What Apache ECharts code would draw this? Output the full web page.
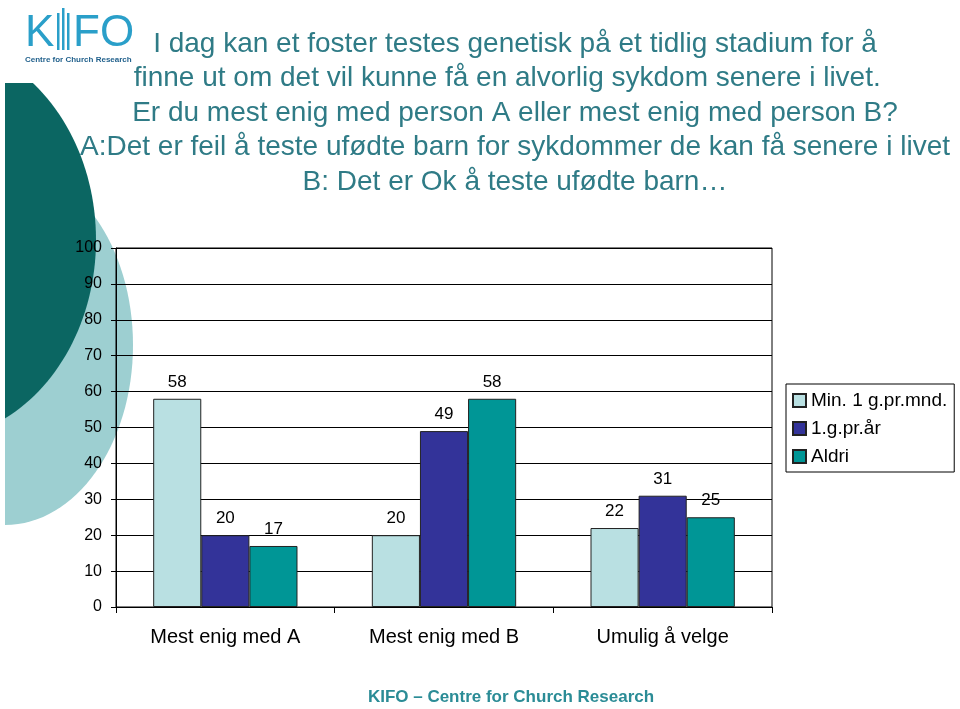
<!DOCTYPE html>
<html>
<head>
<meta charset="utf-8">
<script src="https://cdn.jsdelivr.net/npm/echarts@6/dist/echarts.min.js"></script>
<style>html,body{margin:0;padding:0;background:#fff}#c{width:960px;height:709px}</style>
</head>
<body>
<div id="c"></div>
<script>
const categories = ['Mest enig med A', 'Mest enig med B', 'Umulig å velge'];
const seriesNames = ['Min. 1 g.pr.mnd.', '1.g.pr.år', 'Aldri'];
const minMonthly = [58, 20, 22];
const yearly = [20, 49, 31];
const never = [17, 58, 25];
const yTicks = [0, 10, 20, 30, 40, 50, 60, 70, 80, 90, 100];
const titleLines = [
  'I dag kan et foster testes genetisk på et tidlig stadium for å',
  'finne ut om det vil kunne få en alvorlig sykdom senere i livet.  ',
  'Er du mest enig med person A eller mest enig med person B?',
  'A:Det er feil å teste ufødte barn for sykdommer de kan få senere i livet',
  'B: Det er Ok å teste ufødte barn…'
];
const colors = ['#b9e0e2', '#333399', '#009696'];

const chart = echarts.init(document.getElementById('c'), null, {renderer: 'canvas'});
const font = 'Liberation Sans, Arial, sans-serif';
const values = [minMonthly, yearly, never];
const logoBlue = '#2a9fc9';

chart.setOption({
  animation: false,
  backgroundColor: '#ffffff',
  textStyle: {fontFamily: font},
  graphic: [
    {type: 'ellipse', silent: true, z: -20, shape: {cx: 5, cy: 345, rx: 128, ry: 180}, style: {fill: '#9dcfd1'}},
    {type: 'ellipse', silent: true, z: -19, shape: {cx: -70, cy: 240, rx: 166, ry: 200}, style: {fill: '#0b6662'}},
    {type: 'rect', silent: true, z: -18, shape: {x: 0, y: 0, width: 400, height: 83}, style: {fill: '#ffffff'}},
    {type: 'rect', silent: true, z: -18, shape: {x: 0, y: 0, width: 5, height: 709}, style: {fill: '#ffffff'}},
    {type: 'text', silent: true, z: -17, x: 25, y: 34, style: {text: 'K', font: '300 44px ' + font, fill: logoBlue, verticalAlign: 'middle'}},
    {type: 'rect', silent: true, z: -17, shape: {x: 57, y: 13, width: 2.5, height: 37}, style: {fill: logoBlue}},
    {type: 'rect', silent: true, z: -17, shape: {x: 62, y: 8, width: 2.5, height: 42}, style: {fill: logoBlue}},
    {type: 'rect', silent: true, z: -17, shape: {x: 67, y: 13, width: 2.5, height: 37}, style: {fill: logoBlue}},
    {type: 'text', silent: true, z: -17, x: 73, y: 34, style: {text: 'FO', font: '300 44px ' + font, fill: logoBlue, verticalAlign: 'middle'}},
    {type: 'text', silent: true, z: -17, x: 25, y: 56, style: {text: 'Centre for Church Research', font: 'bold 8px ' + font, fill: '#1f5f8b'}},
    {type: 'text', silent: true, x: 511, y: 689, style: {text: 'KIFO – Centre for Church Research', font: 'bold 17px ' + font, fill: '#2b8c96', textAlign: 'center'}}
  ],
  title: {
    text: titleLines.join('\n'),
    left: 510, top: 22, textAlign: 'center',
    textStyle: {fontFamily: font, fontSize: 28, fontWeight: 'normal', color: '#2f7b86', lineHeight: 34.5}
  },
  legend: {
    orient: 'vertical', left: 786, top: 384,
    data: seriesNames,
    itemWidth: 13, itemHeight: 13, itemGap: 9,
    padding: [7, 7, 6, 6],
    borderColor: '#000', borderWidth: 1,
    textStyle: {fontFamily: font, fontSize: 19, color: '#000'},
    icon: 'rect'
  },
  grid: {left: 116, right: 188, top: 248, bottom: 102, show: true, borderColor: '#000', borderWidth: 1, backgroundColor: 'transparent'},
  xAxis: {
    type: 'category', data: categories,
    axisLine: {lineStyle: {color: '#000'}},
    axisTick: {show: true, length: 6, lineStyle: {color: '#000'}},
    axisLabel: {fontFamily: font, fontSize: 20, color: '#000', margin: 20}
  },
  yAxis: {
    type: 'value', min: 0, max: 100, interval: 10,
    axisLine: {show: true, lineStyle: {color: '#000'}},
    axisTick: {show: true, length: 5, lineStyle: {color: '#000'}},
    axisLabel: {fontFamily: font, fontSize: 16, color: '#000', margin: 14,
      formatter: v => yTicks.includes(v) ? String(v) : ''},
    splitLine: {lineStyle: {color: '#000', width: 1}}
  },
  series: seriesNames.map((n, i) => ({
    name: n, type: 'bar', data: values[i],
    barGap: '0%', barCategoryGap: '34%',
    itemStyle: {color: colors[i], borderColor: '#222', borderWidth: 1},
    label: {show: true, position: 'top', distance: 8, fontFamily: font, fontSize: 17, color: '#000'}
  }))
});
</script>
</body>
</html>
